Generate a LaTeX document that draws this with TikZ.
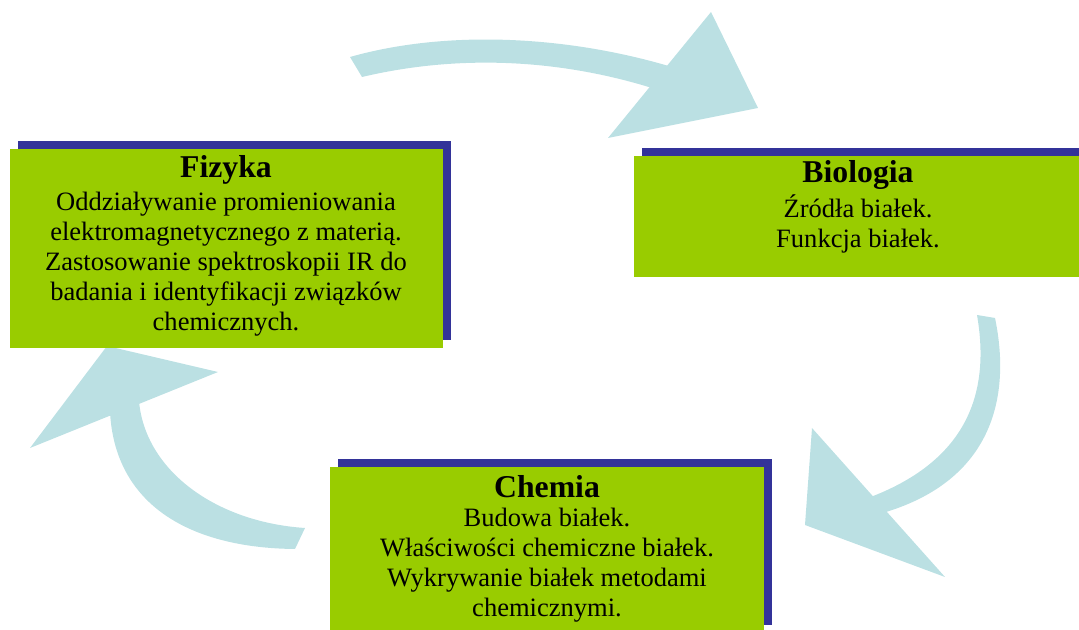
\documentclass[tikz,border=0pt]{standalone}
\usepackage{fontspec}
\setmainfont{Liberation Serif}
\usetikzlibrary{shadows}
\definecolor{boxgreen}{HTML}{99CC00}
\definecolor{shadowblue}{HTML}{333399}
\definecolor{arrowblue}{HTML}{BBE0E3}
\tikzset{
  subjbox/.style={rectangle, fill=boxgreen, inner sep=0pt,
    general shadow={fill=shadowblue, shadow xshift=6pt, shadow yshift=6pt}},
  titletxt/.style={font=\fontsize{23.8pt}{28pt}\selectfont\bfseries, inner sep=0pt},
  bodytxt/.style={font=\fontsize{19.9pt}{22.5pt}\selectfont, align=center, inner sep=0pt},
  arrowshape/.style={fill=arrowblue},
}
\begin{document}
\begin{tikzpicture}[x=0.75pt,y=-0.75pt]
\useasboundingbox (0,0) rectangle (1079,630);
\clip (0,0) rectangle (1079,630);
% top arrow (Fizyka -> Biologia)
\fill[arrowshape] (350,57) .. controls (445,30) and (565,35) .. (672,67)
   -- (652,88) .. controls (555,58) and (455,55) .. (362,77) -- cycle;
\fill[arrowshape] (711,12) -- (758,108) -- (608,138) -- cycle;
% right arrow (Biologia -> Chemia)
\fill[arrowshape] (977,315) .. controls (990,390) and (970,460) .. (868,498)
   -- (886,512) .. controls (990,480) and (1012,400) .. (995,318) -- cycle;
\fill[arrowshape] (812,428) -- (805,525) -- (945,577) -- cycle;
% left arrow (Chemia -> Fizyka)
\fill[arrowshape] (295,549) .. controls (190,548) and (115,505) .. (110,412)
   -- (139,401) .. controls (145,470) and (215,522) .. (305,528) -- cycle;
\fill[arrowshape] (218,372) -- (30,448) -- (107,346) -- cycle;
% boxes
\node[subjbox, minimum width=433*0.75pt, minimum height=199*0.75pt] (fiz) at (226.5,248.5) {};
\node[subjbox, minimum width=448*0.75pt, minimum height=121*0.75pt] (bio) at (858,216.5) {};
\node[subjbox, minimum width=434*0.75pt, minimum height=166*0.75pt] (che) at (547,550) {};
% texts
\node[titletxt] (fizt) at (226,170) {Fizyka};
\node[bodytxt] (fizb) at (226,264) {Oddziaływanie promieniowania\\elektromagnetycznego z materią.\\Zastosowanie spektroskopii IR do\\badania i identyfikacji związków\\chemicznych.};
\node[titletxt] (biot) at (858,175) {Biologia};
\node[bodytxt] (biob) at (858,224) {Źródła białek.\\Funkcja białek.};
\node[titletxt] (chet) at (547,487) {Chemia};
\node[bodytxt] (cheb) at (547,565.5) {Budowa białek.\\Właściwości chemiczne białek.\\Wykrywanie białek metodami\\chemicznymi.};
\end{tikzpicture}
\end{document}
